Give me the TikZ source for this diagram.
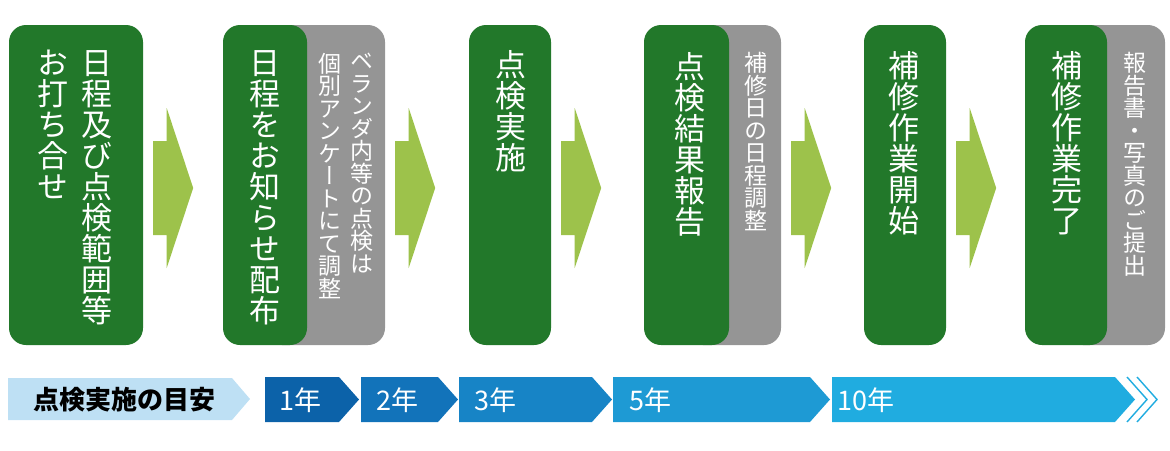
\documentclass[tikz,border=0pt]{standalone}
\usepackage{fontspec}
\setmainfont{Noto Sans CJK JP}
\newfontfamily\tatefont[RawFeature=+vert]{Noto Sans CJK JP}
\usetikzlibrary{calc}
\definecolor{grn}{HTML}{22782A}
\definecolor{pnl}{HTML}{959595}
\definecolor{lim}{HTML}{9DC24B}
\definecolor{sky}{HTML}{BEE0F4}
\definecolor{yr1}{HTML}{0C62A9}
\definecolor{yr2}{HTML}{1273BA}
\definecolor{yr3}{HTML}{1784C6}
\definecolor{yr5}{HTML}{1E9AD4}
\definecolor{yr10}{HTML}{20ACE0}
% vertical (tategaki) stack of characters
\makeatletter
\newcommand\tate[1]{\vbox{\lineskiplimit=-\maxdimen\@tfor\tatec:=#1\do{\hbox to 1em{\hss\tatec\hss}}}}
\makeatother
\tikzset{
  box/.style={fill=grn,rounded corners=17pt,minimum height=320pt,inner sep=0pt},
  panel/.style={box,fill=pnl},
  big/.style={text=white,inner sep=0pt,anchor=north,font=\tatefont\fontsize{31}{31}\selectfont},
  small/.style={big,font=\tatefont\fontsize{23}{22.5}\selectfont},
  flow/.style={fill=lim},
  yr/.style={text=white,inner sep=0pt,anchor=west,font=\fontsize{27}{27}\selectfont},
}

\begin{document}
\begin{tikzpicture}[x=1pt,y=-1pt]
\useasboundingbox (0,0) rectangle (1170,450);
% steps
\node[panel,minimum width=120pt] (p2) at (325,185) {};
\node[panel,minimum width=95pt] (p4) at (733.5,185) {};
\node[panel,minimum width=99pt] (p6) at (1115.5,185) {};
\node[box,minimum width=134pt] (s1) at (76,185) {};
\node[box,minimum width=84pt] (s2) at (265,185) {};
\node[box,minimum width=82pt] (s3) at (510,185) {};
\node[box,minimum width=85pt] (s4) at (686.5,185) {};
\node[box,minimum width=82pt] (s5) at (905,185) {};
\node[box,minimum width=82pt] (s6) at (1066,185) {};
\node[big] (t1a) at (97,50) {\tate{日程及び点検範囲等}};
\node[big] (t1b) at (53,50) {\tate{お打ち合せ}};
\node[big] (t2) at (265,50) {\tate{日程をお知らせ配布}};
\node[small] (q2a) at (362,53) {\tate{ベランダ内等の点検は}};
\node[small] (q2b) at (330,53) {\tate{個別アンケートにて調整}};
\node[big] (t3) at (511,50) {\tate{点検実施}};
\node[big] (t4) at (690,52) {\tate{点検結果報告}};
\node[small] (q4) at (756,52) {\tate{補修日の日程調整}};
\node[big] (t5) at (904,51) {\tate{補修作業開始}};
\node[big] (t6) at (1067,51) {\tate{補修作業完了}};
\node[small] (q6) at (1135,52) {\tate{報告書・写真のご提出}};
% arrows between steps
\foreach \a in {s1,p2,s3,p4,s5}
  \fill[flow] ($(\a.east)+(10,-44)$) -- ++(13.5,0) -- ++(0,-33) -- ++(26.5,80) -- ++(-26.5,80) -- ++(0,-33) -- ++(-13.5,0) -- cycle;
% time line
\fill[sky] (8,378) -- (232,378) -- (250,399) -- (232,420) -- (8,420) -- cycle;
\node[font=\bfseries\fontsize{26}{26}\selectfont,inner sep=0pt] (g) at (124.5,400) {点検実施の目安};
\foreach \l/\r/\c in {265/339/yr1,361/438/yr2,459/592/yr3,613/810/yr5,832/1115/yr10}
  \fill[\c] (\l,377) -- (\r,377) -- (\r+20,399.5) -- (\r,422) -- (\l,422) -- cycle;
\foreach \d in {12,22}
  \draw[yr10,line width=1.4pt] (1115+\d,377) -- (1135+\d,399.5) -- (1115+\d,422);
\node[yr] (y1) at (279,400) {1年};
\node[yr] (y2) at (376,400) {2年};
\node[yr] (y3) at (474,400) {3年};
\node[yr] (y5) at (629,400) {5年};
\node[yr] (y10) at (837,400) {10年};
\end{tikzpicture}
\end{document}
